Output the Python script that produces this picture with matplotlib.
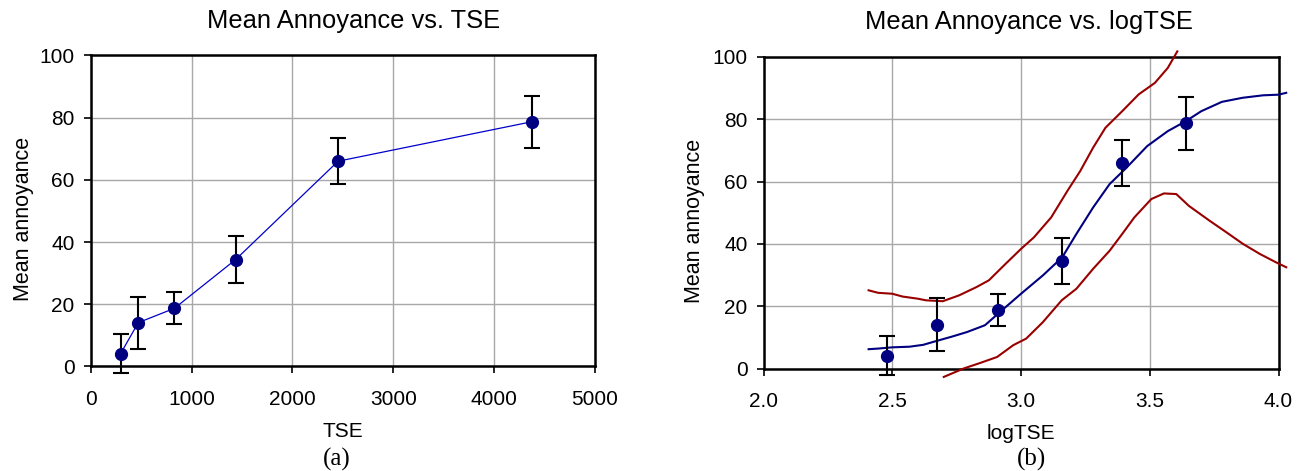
import numpy as np
import matplotlib
matplotlib.use("Agg")
import matplotlib.pyplot as plt
from matplotlib.ticker import FormatStrFormatter

plt.rcParams['font.family'] = ['Liberation Sans', 'DejaVu Sans']

# ---- data ----
tse = [296, 472, 830, 1438, 2453, 4375]
log_tse = [2.478, 2.672, 2.912, 3.158, 3.393, 3.640]
mean_annoy = [4.1, 14.1, 18.7, 34.4, 66.0, 78.7]
err = [6.2, 8.4, 5.2, 7.4, 7.4, 8.4]

fit_x = [2.408, 2.445, 2.50, 2.567, 2.62, 2.67, 2.73, 2.79, 2.86, 2.94, 3.00,
         3.085, 3.16, 3.215, 3.28, 3.344, 3.41, 3.49, 3.57, 3.64, 3.70, 3.78,
         3.86, 3.94, 4.00, 4.03]
fit_y = [6.2, 6.4, 6.8, 7.0, 7.6, 8.8, 10.2, 11.7, 13.9, 19.7, 24.0,
         29.9, 35.7, 43.2, 51.7, 59.2, 64.5, 71.4, 76.2, 79.4, 82.6, 85.6,
         86.9, 87.7, 87.9, 88.5]

upper_x = [2.408, 2.445, 2.50, 2.54, 2.60, 2.63, 2.696, 2.76, 2.826, 2.875,
           2.94, 3.00, 3.05, 3.117, 3.18, 3.23, 3.28, 3.328, 3.393, 3.457,
           3.52, 3.57, 3.607]
upper_y = [25.1, 24.3, 24.0, 23.1, 22.4, 21.9, 21.6, 23.5, 26.1, 28.3,
           33.6, 38.4, 42.1, 48.5, 57.0, 63.4, 70.9, 77.3, 82.6, 88.0,
           91.7, 96.5, 101.8]

lower_x = [2.700, 2.777, 2.842, 2.907, 2.97, 3.02, 3.085, 3.158, 3.215, 3.28,
           3.344, 3.393, 3.44, 3.506, 3.555, 3.603, 3.652, 3.733, 3.798,
           3.862, 3.927, 3.99, 4.03]
lower_y = [-2.7, 0.0, 1.8, 3.7, 7.5, 9.6, 14.9, 21.9, 25.6, 32.0,
           37.8, 43.2, 48.5, 54.4, 56.2, 56.0, 52.2, 47.4, 43.7,
           40.0, 36.8, 34.1, 32.5]

NAVY = '#000080'
LINE_BLUE = '#0000CC'
DARK_RED = '#990000'
GRID = '#A8A8A8'

fig = plt.figure(figsize=(13.05, 4.71), dpi=100)
ax1 = fig.add_axes([0.0695, 0.2219, 0.3864, 0.6603])
ax2 = fig.add_axes([0.5851, 0.2176, 0.3946, 0.6614])


def style(ax):
    ax.set_ylim(0, 100)
    ax.set_yticks([0, 20, 40, 60, 80, 100])
    ax.grid(True, color=GRID, linewidth=1.0)
    ax.set_axisbelow(True)
    for s in ax.spines.values():
        s.set_linewidth(1.8)
        s.set_color('black')
    ax.tick_params(axis='both', direction='out', length=5, width=1.2,
                   labelsize=15, colors='black')
    ax.tick_params(axis='x', pad=12)
    ax.tick_params(axis='y', pad=6.5)
    ax.set_ylabel('Mean annoyance', fontsize=15.5, va='center')
    ax.yaxis.set_label_coords(-0.134, 0.475)


# ---- left panel ----
style(ax1)
ax1.set_xlim(0, 5000)
ax1.set_xticks([0, 1000, 2000, 3000, 4000, 5000])
ax1.plot(tse, mean_annoy, color=LINE_BLUE, linewidth=0.9, zorder=3)
ax1.errorbar(tse, mean_annoy, yerr=err, fmt='none', ecolor='black',
             elinewidth=1.5, capsize=6, capthick=1.5, zorder=4, clip_on=False)
ax1.plot(tse, mean_annoy, 'o', color=NAVY, markersize=8.5, zorder=5,
         clip_on=False)
ax1.set_title('Mean Annoyance vs. TSE', fontsize=18.4, pad=20, x=0.522)
ax1.set_xlabel('TSE', fontsize=15, labelpad=9.5)
fig.text(337 / 1305, 1 - 466 / 471, '(a)', fontsize=18,
         family='Liberation Serif', ha='center', va='baseline')

# ---- right panel ----
style(ax2)
ax2.set_xlim(2.0, 4.0)
ax2.set_xticks([2.0, 2.5, 3.0, 3.5, 4.0])
ax2.xaxis.set_major_formatter(FormatStrFormatter('%.1f'))
ax2.plot(fit_x, fit_y, color=NAVY, linewidth=1.5, zorder=3, clip_on=False)
ax2.plot(upper_x, upper_y, color=DARK_RED, linewidth=1.5, zorder=3,
         clip_on=False)
ax2.plot(lower_x, lower_y, color=DARK_RED, linewidth=1.5, zorder=3,
         clip_on=False)
ax2.errorbar(log_tse, mean_annoy, yerr=err, fmt='none', ecolor='black',
             elinewidth=1.5, capsize=6, capthick=1.5, zorder=4, clip_on=False)
ax2.plot(log_tse, mean_annoy, 'o', color=NAVY, markersize=8.5, zorder=5,
         clip_on=False)
ax2.set_title('Mean Annoyance vs. logTSE', fontsize=18.4, pad=20, x=0.5156)
ax2.set_xlabel('logTSE', fontsize=15, labelpad=9.5)
fig.text(1032 / 1305, 1 - 466 / 471, '(b)', fontsize=18,
         family='Liberation Serif', ha='center', va='baseline')

fig.savefig('out.png', dpi=100)
